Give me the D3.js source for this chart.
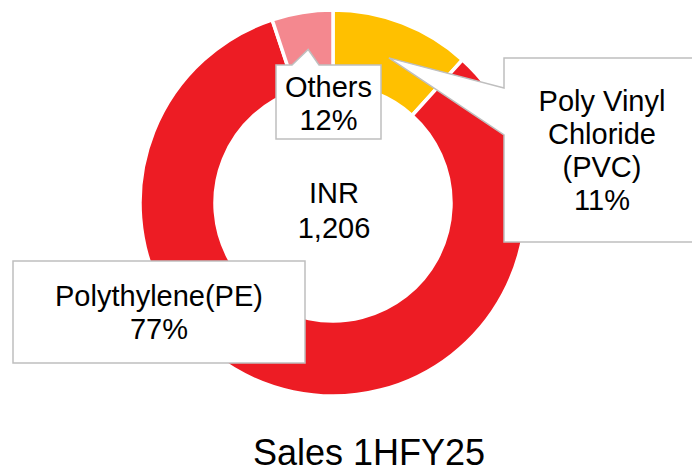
<!DOCTYPE html>
<html>
<head>
<meta charset="utf-8">
<script src="https://cdn.jsdelivr.net/npm/d3@7"></script>
<style>
  body { margin: 0; background: #fff; }
  svg text { font-family: "Liberation Sans", Arial, sans-serif; fill: #000; }
</style>
</head>
<body>
<svg id="chart" width="692" height="474"></svg>
<script>
// slice order is clockwise from 12 o'clock
var categories = ["Poly Vinyl Chloride (PVC)", "Polythylene(PE)", "Others"];
var sliceShares = [11.7, 83.2, 5.1];          // angular share as drawn
var labelPercents = ["11%", "77%", "12%"];     // percent printed in the callouts
var centreLines = ["INR", "1,206"];
var chartTitle = "Sales 1HFY25";

var colors = ["#FFC000", "#ED1C24", "#F4888F"];

var svg = d3.select("#chart");
var cx = 333, cy = 203, outerR = 193, innerR = 118;
var fontSize = 29, lineH = 33;

var pie = d3.pie().sort(null).value(function(d) { return d; });
var arc = d3.arc().innerRadius(innerR).outerRadius(outerR);
var arcs = pie(sliceShares);

var g = svg.append("g").attr("transform", "translate(" + cx + "," + cy + ")");

g.selectAll(".slice").data(arcs).enter()
    .append("path")
    .attr("class", "slice")
    .attr("d", arc)
    .attr("fill", function(d, i) { return colors[i]; })
    .attr("stroke", "#fff")
    .attr("stroke-width", 3.5)
    .attr("stroke-linejoin", "miter");

// centre text
g.append("text")
    .attr("text-anchor", "middle")
    .attr("font-size", fontSize + "px")
    .selectAll("tspan").data(centreLines).enter()
    .append("tspan")
    .attr("x", 1)
    .attr("y", function(d, i) { return i * 35; })
    .text(function(d) { return d; });

// callout boxes (box in page coords, pointer side)
var labelBoxes = [
    { x: 504, y: 58, w: 196, h: 184, lines: ["Poly Vinyl", "Chloride", "(PVC)"], firstBase: 111, pointer: "left", base: [88, 135] },
    { x: 13, y: 261, w: 292, h: 102, lines: ["Polythylene(PE)"], firstBase: 306, pointer: null },
    { x: 276, y: 65, w: 105, h: 74, lines: ["Others"], firstBase: 97, pointer: "top", base: [292, 319] }
];

var stroke = "#BFBFBF";
labelBoxes.forEach(function(b, i) {
    var lg = svg.append("g").attr("class", "callout");
    var c = arc.centroid(arcs[i]);
    var ax = cx + c[0], ay = cy + c[1];
    var x0 = b.x, y0 = b.y, x1 = b.x + b.w, y1 = b.y + b.h;
    var pts;
    if (b.pointer === "left") {
        pts = [[x0, y0], [x1, y0], [x1, y1], [x0, y1], [x0, b.base[1]], [ax, ay], [x0, b.base[0]]];
    } else if (b.pointer === "top") {
        pts = [[x0, y0], [b.base[0], y0], [ax, ay], [b.base[1], y0], [x1, y0], [x1, y1], [x0, y1]];
    } else {
        pts = [[x0, y0], [x1, y0], [x1, y1], [x0, y1]];
    }
    lg.append("path")
        .attr("d", d3.line()(pts) + "Z")
        .attr("fill", "#fff")
        .attr("stroke", stroke)
        .attr("stroke-width", 1.5)
        .attr("stroke-linejoin", "miter");

    var lines = b.lines.concat([labelPercents[i]]);
    lg.append("text")
        .attr("text-anchor", "middle")
        .attr("font-size", fontSize + "px")
        .selectAll("tspan").data(lines).enter()
        .append("tspan")
        .attr("x", b.x + b.w / 2)
        .attr("y", function(d, k) { return b.firstBase + k * lineH; })
        .text(function(d) { return d; });
});

svg.append("text")
    .attr("x", 369)
    .attr("y", 465)
    .attr("text-anchor", "middle")
    .attr("font-size", "36px")
    .text(chartTitle);
</script>
</body>
</html>
